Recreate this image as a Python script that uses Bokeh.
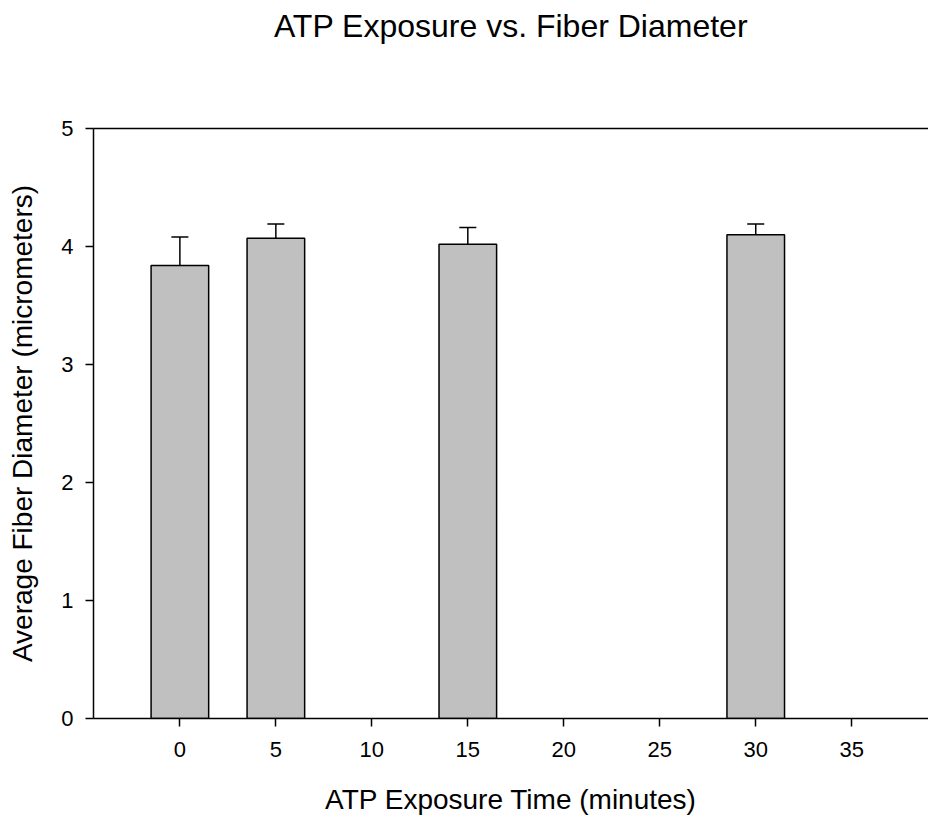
from bokeh.plotting import figure
from bokeh.models import LinearAxis, FixedTicker, Whisker, ColumnDataSource, Range1d, TeeHead
from bokeh.embed import file_html
from bokeh.resources import INLINE

# Data
title_text = "ATP Exposure vs. Fiber Diameter"
times = [0, 5, 15, 30]
means = [3.84, 4.07, 4.02, 4.10]
sems = [0.24, 0.12, 0.14, 0.09]
x_ticks = [0, 5, 10, 15, 20, 25, 30, 35]
y_ticks = [0, 1, 2, 3, 4, 5]

FONT = "Liberation Sans"

src = ColumnDataSource(dict(
    x=times, top=means,
    upper=[m + s for m, s in zip(means, sems)],
))

p = figure(width=928, height=818, output_backend="svg", toolbar_location=None,
           x_range=Range1d(-4.5, 39.0), y_range=Range1d(0, 5),
           min_border_left=93, min_border_right=0, min_border_top=128, min_border_bottom=100)
p.outline_line_color = None
p.grid.visible = False
p.background_fill_color = "white"
p.border_fill_color = "white"

p.vbar(x="x", top="top", bottom=0, width=3.0, source=src,
       fill_color="#c0c0c0", line_color="black", line_width=1.5)

w = Whisker(base="x", lower="top", upper="upper", source=src,
            line_color="black", line_width=1.5, lower_head=None,
            upper_head=TeeHead(size=17, line_color="black", line_width=1.5))
p.add_layout(w)

for ax in (p.xaxis[0], p.yaxis[0]):
    ax.axis_line_width = 1.5
    ax.axis_line_color = "black"
    ax.major_tick_line_width = 1.5
    ax.major_tick_line_color = "black"
    ax.major_tick_in = 0
    ax.major_tick_out = 8
    ax.minor_tick_line_color = None
    ax.major_label_text_font = FONT
    ax.major_label_text_font_size = "22px"
    ax.major_label_text_color = "black"
    ax.axis_label_text_font = FONT
    ax.axis_label_text_font_size = "28px"
    ax.axis_label_text_font_style = "normal"
    ax.axis_label_text_color = "black"

p.xaxis[0].ticker = FixedTicker(ticks=x_ticks)
p.yaxis[0].ticker = FixedTicker(ticks=y_ticks)
p.xaxis[0].axis_label = "ATP Exposure Time (minutes)"
p.yaxis[0].axis_label = "Average Fiber Diameter (micrometers)"
p.xaxis[0].major_label_standoff = 15
p.xaxis[0].axis_label_standoff = 24
p.yaxis[0].major_label_standoff = 12
p.yaxis[0].axis_label_standoff = 20

# Top frame line carrying the chart title
top_ax = LinearAxis(ticker=FixedTicker(ticks=[]), major_label_text_font_size="0px",
                    major_tick_in=0, major_tick_out=0, major_label_standoff=0,
                    minor_tick_line_color=None, axis_line_width=1.5, axis_line_color="black",
                    axis_label=title_text, axis_label_standoff=85,
                    axis_label_text_font=FONT, axis_label_text_font_size="32px",
                    axis_label_text_font_style="normal", axis_label_text_color="black")
p.add_layout(top_ax, "above")

open("out.html", "w").write(file_html(p, INLINE))
